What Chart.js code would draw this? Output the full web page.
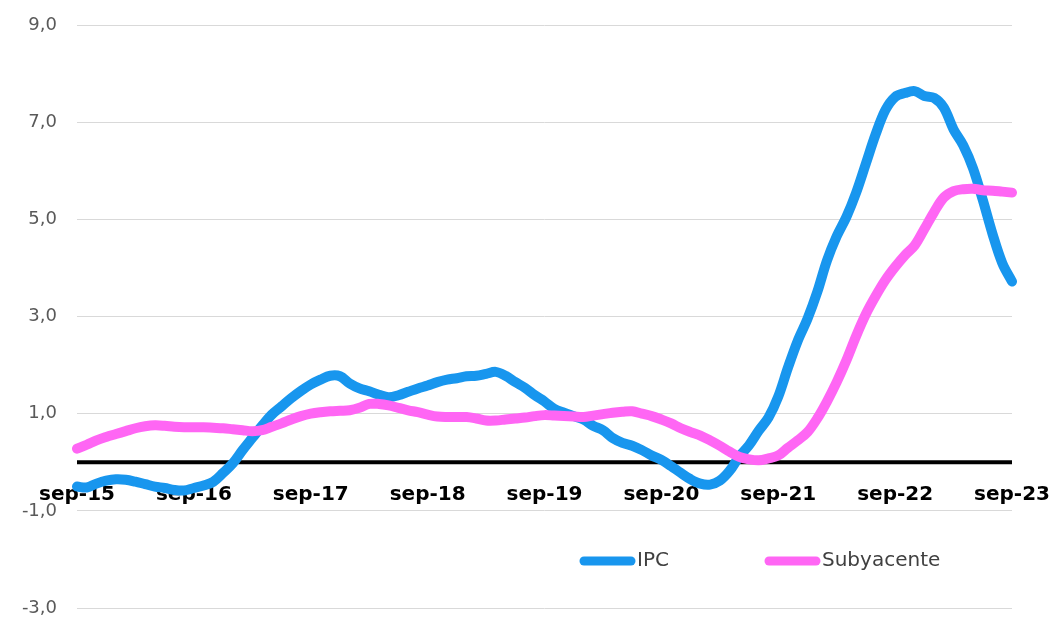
<!DOCTYPE html>
<html lang="es">
<head>
<meta charset="UTF-8">
<title>IPC y Subyacente</title>
<script src="https://cdn.jsdelivr.net/npm/chart.js@4.4.0/dist/chart.umd.min.js"></script>
<style>
  body { margin: 0; background: #fff; }
  #wrap { width: 1049px; height: 619px; position: relative; }
</style>
</head>
<body>
<div id="wrap"><canvas id="chart"></canvas></div>
<script>
// meses de sep-15 a sep-23
const meses = ['ene', 'feb', 'mar', 'abr', 'may', 'jun', 'jul', 'ago', 'sep', 'oct', 'nov', 'dic'];
const anioInicio = 15, mesInicio = 8, nMeses = 97;
const etiquetas = [];
for (let i = 0; i < nMeses; i++) {
  const m = (mesInicio + i) % 12;
  const a = anioInicio + Math.floor((mesInicio + i) / 12);
  etiquetas.push(meses[m] + '-' + a);
}

const ipc = [
  -0.50, -0.52, -0.44, -0.38, -0.35, -0.36, -0.40, -0.45, -0.50, -0.53, -0.57, -0.58,
  -0.53, -0.48, -0.40, -0.22, -0.02, 0.25, 0.50, 0.75, 0.98, 1.15, 1.32, 1.47,
  1.60, 1.70, 1.78, 1.77, 1.62, 1.52, 1.46, 1.39, 1.34, 1.38, 1.45, 1.52,
  1.58, 1.65, 1.70, 1.73, 1.77, 1.78, 1.82, 1.86, 1.78, 1.65, 1.53, 1.38,
  1.25, 1.10, 1.02, 0.95, 0.88, 0.75, 0.66, 0.50, 0.40, 0.34, 0.25, 0.14,
  0.05, -0.08, -0.22, -0.35, -0.44, -0.46, -0.38, -0.18, 0.12, 0.35, 0.65, 0.92,
  1.35, 1.95, 2.50, 2.95, 3.50, 4.15, 4.65, 5.05, 5.55, 6.15, 6.75, 7.25,
  7.52, 7.60, 7.64, 7.54, 7.50, 7.30, 6.85, 6.52, 6.05, 5.40, 4.70, 4.10,
  3.72
];

const subyacente = [
  0.28, 0.36, 0.45, 0.52, 0.58, 0.64, 0.70, 0.74, 0.76, 0.75, 0.73, 0.72,
  0.72, 0.72, 0.71, 0.70, 0.68, 0.66, 0.64, 0.66, 0.73, 0.80, 0.88, 0.95,
  1.00, 1.03, 1.05, 1.06, 1.07, 1.12, 1.20, 1.20, 1.17, 1.12, 1.07, 1.03,
  0.98, 0.94, 0.93, 0.93, 0.93, 0.90, 0.86, 0.86, 0.88, 0.90, 0.92, 0.95,
  0.97, 0.96, 0.95, 0.94, 0.93, 0.96, 0.99, 1.02, 1.04, 1.05, 1.00, 0.95,
  0.88, 0.80, 0.70, 0.62, 0.55, 0.45, 0.34, 0.22, 0.11, 0.06, 0.04, 0.08,
  0.14, 0.30, 0.45, 0.62, 0.90, 1.25, 1.65, 2.10, 2.60, 3.05, 3.42, 3.75,
  4.02, 4.26, 4.46, 4.80, 5.15, 5.45, 5.58, 5.62, 5.63, 5.60, 5.59, 5.57,
  5.55
];

const AZUL = '#1896EE';
const ROSA = '#FF66F4';
const FUENTE = '"DejaVu Sans", Verdana, sans-serif';

// linea negra del cero, debajo de las series
const lineaCero = {
  id: 'lineaCero',
  beforeDatasetsDraw(chart) {
    const { ctx, chartArea } = chart;
    const y0 = chart.scales.y.getPixelForValue(0);
    ctx.save();
    ctx.strokeStyle = '#000';
    ctx.lineWidth = 4;
    ctx.beginPath();
    ctx.moveTo(chartArea.left, y0);
    ctx.lineTo(chartArea.right, y0);
    ctx.stroke();
    ctx.restore();
  }
};

// leyenda dentro del area del grafico
const leyenda = {
  id: 'leyenda',
  afterDraw(chart) {
    const ctx = chart.ctx;
    const pos = [580, 765];
    const y = 561;
    ctx.save();
    ctx.font = '20px ' + FUENTE;
    ctx.textBaseline = 'middle';
    chart.data.datasets.forEach((ds, i) => {
      const x = pos[i];
      ctx.strokeStyle = ds.borderColor;
      ctx.lineWidth = 9;
      ctx.lineCap = 'round';
      ctx.beginPath();
      ctx.moveTo(x + 4, y);
      ctx.lineTo(x + 51, y);
      ctx.stroke();
      ctx.fillStyle = '#404040';
      ctx.fillText(ds.label, x + 57, y);
    });
    ctx.restore();
  }
};

function sinRelleno(s) {
  s.paddingLeft = 0;
  s.paddingRight = 0;
  s.paddingTop = 0;
  s.paddingBottom = 0;
}

new Chart(document.getElementById('chart'), {
  type: 'line',
  data: {
    labels: etiquetas,
    datasets: [
      {
        label: 'IPC',
        data: ipc,
        order: 1,
        borderColor: AZUL,
        backgroundColor: AZUL,
        borderWidth: 10,
        pointRadius: 0,
        tension: 0.35,
        borderCapStyle: 'round',
        borderJoinStyle: 'round'
      },
      {
        label: 'Subyacente',
        data: subyacente,
        order: 0,
        borderColor: ROSA,
        backgroundColor: ROSA,
        borderWidth: 10,
        pointRadius: 0,
        tension: 0.35,
        borderCapStyle: 'round',
        borderJoinStyle: 'round'
      }
    ]
  },
  options: {
    responsive: true,
    maintainAspectRatio: false,
    animation: false,
    layout: { padding: { left: 0, right: 37, top: 25, bottom: 11 } },
    plugins: {
      legend: { display: false },
      tooltip: { enabled: false }
    },
    scales: {
      x: {
        position: { y: 0 },
        z: 1,
        afterFit: (s) => { s.height = 0; sinRelleno(s); },
        grid: { display: false, drawTicks: false },
        border: { display: false },
        ticks: {
          autoSkip: false,
          maxRotation: 0,
          padding: 21,
          color: '#000',
          font: { family: FUENTE, size: 20, weight: 'bold' },
          callback: function (val) {
            const l = this.getLabelForValue(val);
            return l.startsWith('sep') ? l : '';
          }
        }
      },
      y: {
        min: -3,
        max: 9,
        afterFit: (s) => { s.width = 77; sinRelleno(s); },
        grid: { color: '#d9d9d9', lineWidth: 1, drawTicks: false },
        border: { display: false },
        ticks: {
          stepSize: 2,
          padding: 20,
          color: '#595959',
          font: { family: FUENTE, size: 18 },
          callback: (v) => v.toFixed(1).replace('.', ',')
        }
      }
    }
  },
  plugins: [lineaCero, leyenda]
});
</script>
</body>
</html>
